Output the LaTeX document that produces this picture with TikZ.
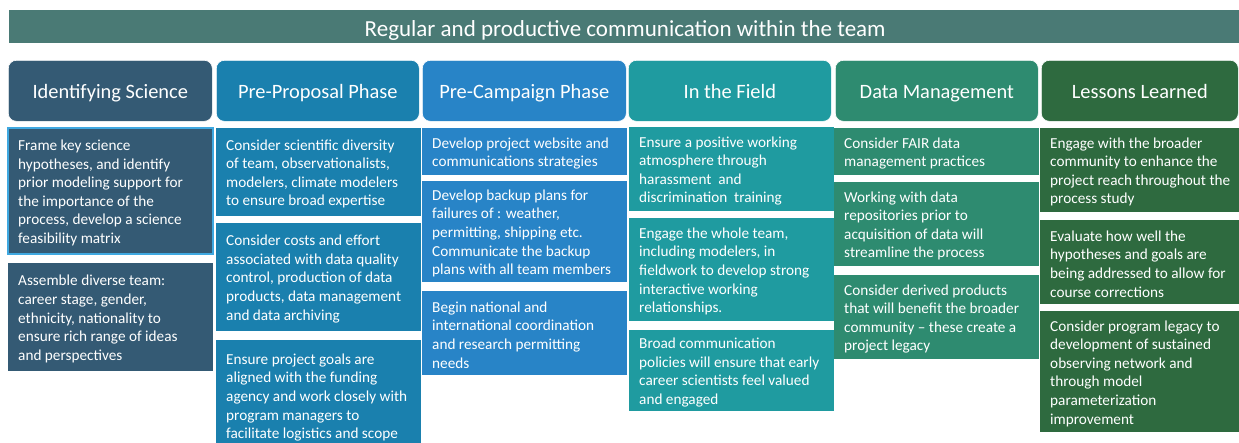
\documentclass[tikz,border=0pt]{standalone}
\usepackage{fontspec}
\setmainfont{Carlito}
\definecolor{cban}{HTML}{4A7A75}
\definecolor{cA}{HTML}{345A74}
\definecolor{cB}{HTML}{1A80AE}
\definecolor{cC}{HTML}{2884C7}
\definecolor{cD}{HTML}{1F9BA0}
\definecolor{cE}{HTML}{2E8B70}
\definecolor{cF}{HTML}{2E6A3F}
\definecolor{cSel}{HTML}{3FA8E0}
\newcommand\mybody{\fontsize{15.25pt}{18.6pt}\selectfont}
\newcommand\myhdr{\fontsize{20.4pt}{24pt}\selectfont}
\newcommand\mytitle{\fontsize{23pt}{28pt}\selectfont}
\tikzset{
  hdr/.style={rounded corners=8pt, anchor=north west, minimum height=61pt, inner sep=0pt,
    draw=white, line width=0.6pt, text=white, font=\myhdr, text height=17pt, text depth=2pt},
  cell/.style={anchor=north west, minimum width=205pt, inner sep=0pt, outer sep=0pt},
  txt/.style={anchor=west, align=left, inner sep=0pt, text=white, font=\mybody, xshift=10pt, yshift=-2pt},
}
\begin{document}
\begin{tikzpicture}[x=1pt,y=1pt]
\useasboundingbox (0,0) rectangle (1239,-442);
% banner
\node[anchor=north west, fill=cban, minimum width=1232pt, minimum height=33pt, inner sep=0pt,
  text=white, font=\mytitle, text height=20pt, text depth=1pt] (ban) at (9,-10)
  {Regular and productive communication within the team};
% headers
\node[hdr, fill=cA, minimum width=204pt] (h1) at (8,-60) {Identifying Science};
\node[hdr, fill=cB, minimum width=203pt] (h2) at (216,-60) {Pre-Proposal Phase};
\node[hdr, fill=cC, minimum width=204pt] (h3) at (422,-60) {Pre-Campaign Phase};
\node[hdr, fill=cD, minimum width=203pt] (h4) at (628,-60) {In the Field};
\node[hdr, fill=cE, minimum width=203pt] (h5) at (835,-60) {Data Management};
\node[hdr, fill=cF, minimum width=197pt] (h6) at (1041,-60) {Lessons Learned};
% column 1
\node[cell, fill=cA, draw=cSel, line width=1.5pt, minimum height=126pt] (a1) at (8,-128) {};
\node[txt] (ta1) at (a1.west) {Frame key science\\hypotheses, and identify\\prior modeling support for\\the importance of the\\process, develop a science\\feasibility matrix};
\node[cell, fill=cA, minimum height=108pt] (a2) at (8,-263) {};
\node[txt] (ta2) at (a2.west) {Assemble diverse team:\\career stage, gender,\\ethnicity, nationality to\\ensure rich range of ideas\\and perspectives};
% column 2
\node[cell, fill=cB, minimum height=88pt] (b1) at (216,-128) {};
\node[txt] (tb1) at (b1.west) {Consider scientific diversity\\of team, observationalists,\\modelers, climate modelers\\to ensure broad expertise};
\node[cell, fill=cB, minimum height=108pt] (b2) at (216,-223) {};
\node[txt] (tb2) at (b2.west) {Consider costs and effort\\associated with data quality\\control, production of data\\products, data management\\and data archiving};
\node[cell, fill=cB, minimum height=111pt] (b3) at (216,-340) {};
\node[txt] (tb3) at (b3.west) {Ensure project goals are\\aligned with the funding\\agency and work closely with\\program managers to\\facilitate logistics and scope};
% column 3
\node[cell, fill=cC, minimum height=47pt] (c1) at (422,-128) {};
\node[txt] (tc1) at (c1.west) {Develop project website and\\communications strategies};
\node[cell, fill=cC, minimum height=101pt] (c2) at (422,-181) {};
\node[txt] (tc2) at (c2.west) {Develop backup plans for\\failures of : weather,\\permitting, shipping etc.\\Communicate the backup\\plans with all team members};
\node[cell, fill=cC, minimum height=84pt] (c3) at (422,-291) {};
\node[txt] (tc3) at (c3.west) {Begin national and\\international coordination\\and research permitting\\needs};
% column 4
\node[cell, fill=cD, minimum height=84pt] (d1) at (629,-127) {};
\node[txt] (td1) at (d1.west) {Ensure a positive working\\atmosphere through\\harassment \ and\\discrimination \ training};
\node[cell, fill=cD, minimum height=103pt] (d2) at (629,-218) {};
\node[txt] (td2) at (d2.west) {Engage the whole team,\\including modelers, in\\fieldwork to develop strong\\interactive working\\relationships.};
\node[cell, fill=cD, minimum height=81pt] (d3) at (629,-330) {};
\node[txt] (td3) at (d3.west) {Broad communication\\policies will ensure that early\\career scientists feel valued\\and engaged};
% column 5
\node[cell, fill=cE, minimum height=47pt] (e1) at (834,-128) {};
\node[txt] (te1) at (e1.west) {Consider FAIR data\\management practices};
\node[cell, fill=cE, minimum height=84pt] (e2) at (834,-182) {};
\node[txt] (te2) at (e2.west) {Working with data\\repositories prior to\\acquisition of data will\\streamline the process};
\node[cell, fill=cE, minimum height=84pt] (e3) at (834,-275) {};
\node[txt] (te3) at (e3.west) {Consider derived products\\that will benefit the broader\\community -- these create a\\project legacy};
% column 6
\node[cell, fill=cF, minimum height=84pt] (f1) at (1040,-128) {};
\node[txt] (tf1) at (f1.west) {Engage with the broader\\community to enhance the\\project reach throughout the\\process study};
\node[cell, fill=cF, minimum height=84pt] (f2) at (1040,-220) {};
\node[txt] (tf2) at (f2.west) {Evaluate how well the\\hypotheses and goals are\\being addressed to allow for\\course corrections};
\node[cell, fill=cF, minimum height=121pt] (f3) at (1040,-311) {};
\node[txt] (tf3) at (f3.west) {Consider program legacy to\\development of sustained\\observing network and\\through model\\parameterization\\improvement};
\end{tikzpicture}
\end{document}
